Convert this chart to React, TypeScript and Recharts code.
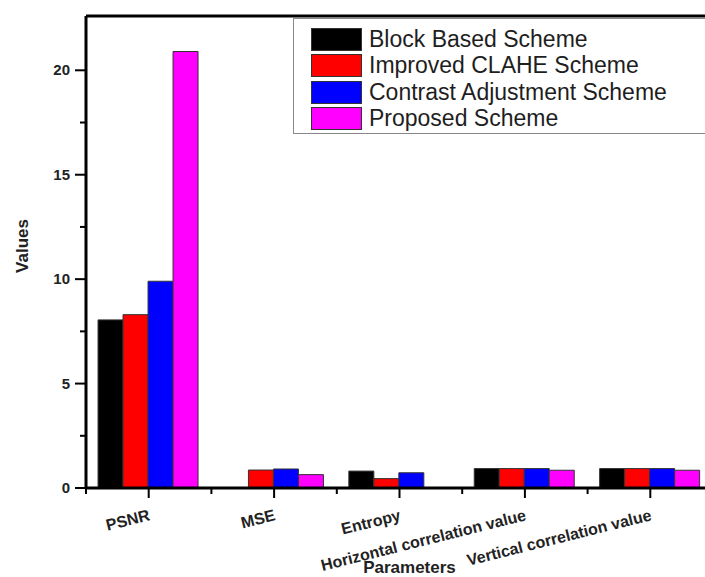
import { Bar, BarChart, ReferenceLine, XAxis, YAxis } from 'recharts'

const categories = ['PSNR', 'MSE', 'Entropy', 'Horizontal correlation value', 'Vertical correlation value']
const seriesNames = ['Block Based Scheme', 'Improved CLAHE Scheme', 'Contrast Adjustment Scheme', 'Proposed Scheme']
const seriesColors = ['#000000', '#FF0000', '#0000FF', '#FF00FF']
const blockBased = [8.05, 0, 0.81, 0.93, 0.93]
const improvedClahe = [8.3, 0.86, 0.45, 0.93, 0.93]
const contrastAdj = [9.9, 0.91, 0.73, 0.93, 0.93]
const proposed = [20.9, 0.64, 0, 0.85, 0.85]
const yTicks = [0, 2.5, 5, 7.5, 10, 12.5, 15, 17.5, 20]
const Y_MAX = 22.6

const seriesValues = [blockBased, improvedClahe, contrastAdj, proposed]
const seriesKeys = ['block', 'clahe', 'contrast', 'proposed']

const chartData = categories.map((name, i) => {
  const row: Record<string, string | number> = { name }
  seriesKeys.forEach((k, s) => {
    row[k] = seriesValues[s][i]
  })
  return row
})

const CHART_W = 720
const CHART_H = 577
const MARGIN = { top: 16, right: 7, left: 0, bottom: 0 }
const Y_AXIS_W = 86
const X_AXIS_H = 89
const BAND = (CHART_W - MARGIN.left - MARGIN.right - Y_AXIS_W) / categories.length
const FONT = '"Liberation Sans", Arial, sans-serif'

const YTick = ({ x = 0, y = 0, payload }: any) => {
  const v = payload?.value
  const major = v % 5 === 0
  return (
    <g>
      <line x1={x - (major ? 11 : 6)} x2={x} y1={y} y2={y} stroke="#000" strokeWidth={2} />
      {major && (
        <text x={x - 16} y={y} dy={5} textAnchor="end" fontSize={15} fontWeight="bold" fill="#222" fontFamily={FONT}>
          {v}
        </text>
      )}
    </g>
  )
}

const XTick = ({ x = 0, y = 0, payload }: any) => {
  const tx = x + 2
  const ty = y + 32
  return (
    <g>
      <line x1={x} x2={x} y1={y} y2={y + 10} stroke="#000" strokeWidth={2} />
      <line x1={x - BAND / 2} x2={x - BAND / 2} y1={y} y2={y + 6} stroke="#000" strokeWidth={2} />
      <text
        x={tx}
        y={ty}
        textAnchor="end"
        transform={`rotate(-14, ${tx}, ${ty})`}
        fontSize={16}
        fontWeight="bold"
        fill="#222"
        fontFamily={FONT}
      >
        {payload?.value}
      </text>
    </g>
  )
}

// legend box runs off the right edge like in the source figure
const LegendBox = () => (
  <div
    style={{
      position: 'absolute',
      left: 293,
      top: 18,
      width: 460,
      height: 116,
      background: '#fff',
      border: '1.5px solid #888',
      boxSizing: 'border-box',
      paddingTop: 7,
      paddingLeft: 17,
      fontFamily: FONT,
    }}
  >
    {seriesNames.map((n, i) => (
      <div key={n} style={{ display: 'flex', alignItems: 'center', height: 26.5 }}>
        <span
          style={{
            display: 'inline-block',
            width: 51,
            height: 23,
            background: seriesColors[i],
            border: '1px solid #333',
            boxSizing: 'border-box',
          }}
        />
        <span style={{ marginLeft: 7, fontSize: 23, color: '#1e1e1e', lineHeight: '23px', whiteSpace: 'nowrap' }}>{n}</span>
      </div>
    ))}
  </div>
)

const App = () => {
  return (
    <div style={{ position: 'fixed', left: 0, top: 0, width: 705, height: 577, overflow: 'hidden', background: '#fff' }}>
      <BarChart
        width={CHART_W}
        height={CHART_H}
        data={chartData}
        margin={MARGIN}
        barCategoryGap="9.6%"
        barGap={0}
      >
        <XAxis
          dataKey="name"
          height={X_AXIS_H}
          interval={0}
          tickSize={0}
          tickMargin={0}
          tickLine={false}
          axisLine={{ stroke: '#000', strokeWidth: 3 }}
          tick={<XTick />}
          label={{
            content: ({ viewBox }: any) => (
              <text
                x={viewBox.x + viewBox.width / 2 + 10}
                y={viewBox.y + 85}
                textAnchor="middle"
                fontSize={17}
                fontWeight="bold"
                fill="#222"
                fontFamily={FONT}
              >
                Parameters
              </text>
            ),
          }}
        />
        <YAxis
          width={Y_AXIS_W}
          domain={[0, Y_MAX]}
          ticks={yTicks}
          interval={0}
          tickSize={0}
          tickMargin={0}
          tickLine={false}
          axisLine={{ stroke: '#000', strokeWidth: 3 }}
          tick={<YTick />}
          label={{
            content: ({ viewBox }: any) => {
              const cx = 28
              const cy = viewBox.y + viewBox.height / 2 - 6
              return (
                <text
                  x={cx}
                  y={cy}
                  textAnchor="middle"
                  transform={`rotate(-90, ${cx}, ${cy})`}
                  fontSize={17}
                  fontWeight="bold"
                  fill="#222"
                  fontFamily={FONT}
                >
                  Values
                </text>
              )
            },
          }}
        />
        <ReferenceLine y={Y_MAX} stroke="#000" strokeWidth={3} />
        {seriesKeys.map((k, i) => (
          <Bar
            key={k}
            dataKey={k}
            name={seriesNames[i]}
            fill={seriesColors[i]}
            stroke="#333"
            strokeWidth={1}
            isAnimationActive={false}
          />
        ))}
      </BarChart>
      <LegendBox />
    </div>
  )
}

export default App
